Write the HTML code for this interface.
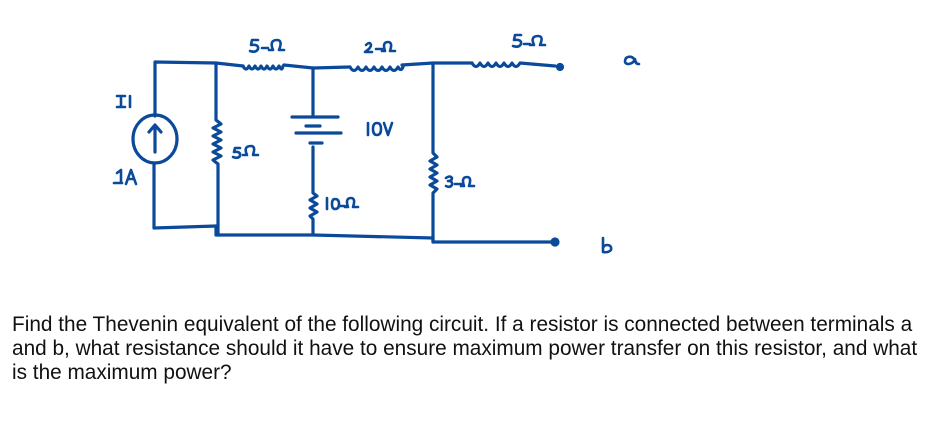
<!DOCTYPE html>
<html><head><style>
body{margin:0;width:937px;height:429px;background:#fff;overflow:hidden;position:relative}
svg{position:absolute;left:0;top:0}
.t{position:absolute;left:12px;top:313px;white-space:nowrap;font-family:"Liberation Sans",sans-serif;font-size:20.8px;line-height:24px;color:#111}
</style></head><body>
<svg width="937" height="429" viewBox="0 0 937 429" fill="none" stroke="#0b4a9a" stroke-width="3.2" stroke-linecap="round" stroke-linejoin="round">
<path d="M155,116 V62 L216,63 L243,66"/>
<path d="M243,66 q3,6 6,0 q3,6 6,0 q3,6 6,0 q3,6 6,0 q3,6 6,0 q3,6 6,0 q3,6 4,0"/>
<path d="M284,65 L313,68 L350,67"/>
<path d="M350,67 q4,7 8,0 q4,7 8,0 q4,7 8,0 q4,7 8,0 q4,7 8,0 q4,7 8,0 q3,5 5,0"/>
<path d="M402,65 L433,63 L472,63"/>
<path d="M472,63 q4,7 8,0 q4,7 8,0 q4,7 8,0 q4,7 8,0 q4,7 8,0 q4,7 8,0 L555,66"/>
<circle cx="560" cy="67" r="2.5" fill="#0b4a9a"/>
<ellipse cx="155" cy="139" rx="22" ry="24"/>
<path d="M155,152 V126 M149,132 L155,125 L161,132"/>
<path d="M154,163 V228 L216,226 L216,235 L313,235 L433,238 L433,242 L553,242"/>
<circle cx="555" cy="242" r="3" fill="#0b4a9a"/>
<path d="M216,63 V120 l5,4 -8,4 8,4 -8,4 8,4 -8,4 8,4 -8,4 8,4 -8,4 5,4 V235"/>
<path d="M313,68 V115"/>
<path d="M292,117 H338 M306,126 H320 M296,133 H341 M310,143 H322"/>
<path d="M313,147 V193 l4,3 -7,4 7,4 -7,4 7,4 -7,4 3,3 V235"/>
<path d="M433,63 V153 l4,4 -7,4 7,4 -7,4 7,4 -7,4 7,4 -7,4 7,4 -4,4 V242"/>
<g stroke-width="2.6">
<path d="M258,40 h-6 l-1,5 q8,-1 7,4 q-2,4 -8,2"/><path d="M262,48 h6"/><path d="M269,50 h4 q-4,-10 4,-10 q6,0 2,10 h5"/>
<path d="M366,45 q4,-4 5,0 q0,3 -6,7 h7"/><path d="M376,49 h6"/><path d="M382,51 h3 q-3,-9 3,-9 q5,0 2,9 h5"/>
<path d="M521,35 h-6 l-1,5 q8,-1 7,4 q-2,4 -8,2"/><path d="M524,44 h6"/><path d="M530,45 h4 q-4,-9 4,-9 q6,0 2,9 h5"/>
<path d="M636,62 q-4,-8 -10,-4 q-3,6 3,6 q5,-1 6,-5 q0,5 4,5"/>
<path d="M117,96 h8 M121,96 v11 M117,107 h8 M130,96 v11"/>
<path d="M117,173 l4,-3 v13 M114,183 h8 M126,184 l5,-14 5,14 M128,179 h6"/>
<path d="M240,148 h-5 l-1,4 q7,-1 6,4 q-2,3 -7,1"/><path d="M243,155 h4 q-4,-9 4,-9 q5,0 2,9 h5"/>
<path d="M368,123 v12 M373,129 q0,-6 4,-6 q4,0 4,6 q0,6 -4,6 q-4,0 -4,-6 M384,123 l4,12 4,-12"/>
<path d="M327,198 v11 M332,204 q0,-5 3,-5 q4,0 4,5 q0,5 -4,5 q-3,0 -3,-5 M340,206 h5 M345,207 h3 q-3,-9 3,-9 q5,0 2,9 h5"/>
<path d="M446,178 q4,-3 6,0 q0,3 -4,3 q5,0 4,4 q-2,3 -6,1 M455,184 h6 M461,186 h3 q-3,-9 3,-9 q5,0 2,9 h5"/>
<path d="M603,238 v14 q5,1 8,-2 q1,-5 -4,-5 q-3,0 -4,3"/>
</g>
</svg>
<div class="t">Find the Thevenin equivalent of the following circuit. If a resistor is connected between terminals a<br>and b, what resistance should it have to ensure maximum power transfer on this resistor, and what<br>is the maximum power?</div>
</body></html>
